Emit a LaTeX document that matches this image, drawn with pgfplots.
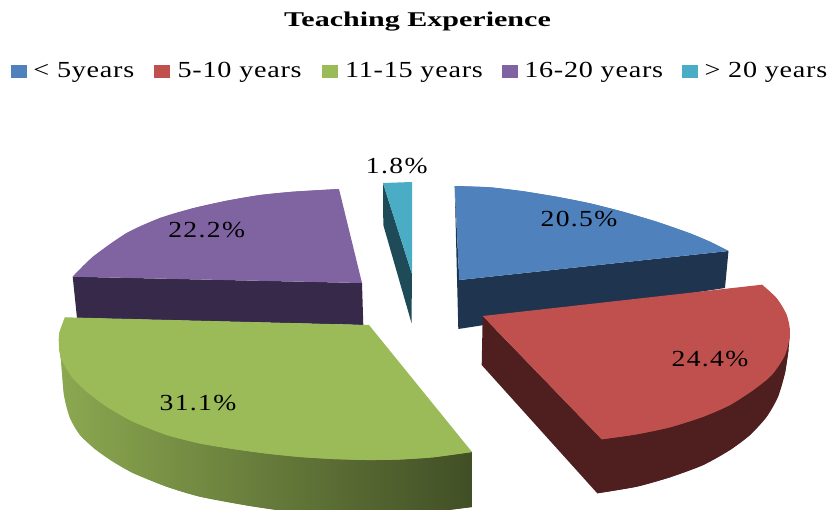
\documentclass[border=0pt]{standalone}
\usepackage{pgfplots}
\pgfplotsset{compat=1.18}
\usepackage{fontspec}
\setmainfont{Liberation Serif}
\newfontfamily\leg[FakeStretch=1.225,LetterSpace=3.2]{Liberation Serif}
\newfontfamily\lab[FakeStretch=1.2,LetterSpace=6]{Liberation Serif}
\definecolor{cb}{HTML}{4F81BD}\definecolor{cr}{HTML}{C0504D}\definecolor{cg}{HTML}{9BBB59}
\definecolor{cp}{HTML}{8064A2}\definecolor{cc}{HTML}{4BACC6}
\definecolor{db}{HTML}{1F344E}\definecolor{dr}{HTML}{4E1F1E}\definecolor{dp}{HTML}{36294A}\definecolor{dc}{HTML}{1E4B57}
\begin{document}
\begin{tikzpicture}
\useasboundingbox (0,0) rectangle (830bp,510bp);
\begin{axis}[
  at={(0,0)},anchor=south west,
  width=830bp,height=510bp,scale only axis,
  xmin=0,xmax=830,ymin=0,ymax=510,y dir=reverse,
  hide axis,clip=true,
  legend columns=5,
  legend style={draw=none,fill=none,at={(axis cs:11,71)},anchor=west,
    font=\fontsize{23bp}{25bp}\leg,inner sep=0pt,outer sep=0pt,
    nodes={inner sep=0pt,outer sep=0pt},
    /tikz/column 1/.style={column sep=7bp},
    /tikz/column 2/.style={column sep=20bp},
    /tikz/column 3/.style={column sep=8bp},
    /tikz/column 4/.style={column sep=20bp},
    /tikz/column 5/.style={column sep=8bp},
    /tikz/column 6/.style={column sep=19bp},
    /tikz/column 7/.style={column sep=7bp},
    /tikz/column 8/.style={column sep=19bp},
    /tikz/column 9/.style={column sep=7bp}},
  legend cell align=left,
  legend image code/.code={\fill[#1] (0bp,-6bp) rectangle (15bp,6bp);},
]
\addlegendimage{cb}\addlegendentry{< 5years}
\addlegendimage{cr}\addlegendentry{5-10 years}
\addlegendimage{cg}\addlegendentry{11-15 years}
\addlegendimage{cp}\addlegendentry{16-20 years}
\addlegendimage{cc}\addlegendentry{> 20 years}
% blue
\addplot[forget plot,fill=db,draw=none] coordinates {(454.7,186)(459.3,280)(728.5,251)(725,288)(458.3,329)};
\addplot[forget plot,fill=cb,draw=none] coordinates {(454.7,186)(490,187.3)(523,191.2)(556.7,196.7)(590,203.3)(623,211.7)(656.7,221.7)(690,233.3)(710,241.7)(728.5,251)(459.3,280)};
\addplot[forget plot,fill=cb,draw=none,smooth] coordinates {(454.7,186)(490,187.3)(523,191.2)(556.7,196.7)(590,203.3)(623,211.7)(656.7,221.7)(690,233.3)(710,241.7)(728.5,251)};
% purple
\addplot[forget plot,fill=dp,draw=none] coordinates {(72.7,276.7)(362,283)(363.3,325)(77,318)};
\addplot[forget plot,fill=cp,draw=none] coordinates {(339,189)(293,191.7)(260,195)(226.7,200.7)(193,208.2)(160,218)(126.7,233)(93,256.7)(72.7,276.7)(362,283)};
\addplot[forget plot,fill=cp,draw=none,smooth] coordinates {(339,189)(293,191.7)(260,195)(226.7,200.7)(193,208.2)(160,218)(126.7,233)(93,256.7)(72.7,276.7)};
% cyan
\addplot[forget plot,fill=dc,draw=none] coordinates {(383,183)(412,274)(411.5,323)(383.3,225)};
\addplot[forget plot,fill=cc,draw=none] coordinates {(383,183)(412,182)(412,274)};
% red
\addplot[forget plot,fill=dr,draw=none] coordinates {(482.7,316)(481.7,365)(597.3,493.3)(636.7,486.7)(670,477.3)(703.3,465)(730,450)(750,435)(766.7,416.7)(778,396.7)(785,373)(788.5,350)(790,333)(601.7,439)};
\addplot[forget plot,fill=dr,draw=none,smooth] coordinates {(788.5,350)(785,373)(778,396.7)(766.7,416.7)(750,435)(730,450)(703.3,465)(670,477.3)(636.7,486.7)(597.3,493.3)};
\addplot[forget plot,fill=cr,draw=none] coordinates {(482.7,316)(762,284.7)(776.7,298.3)(786.7,315)(790,333.3)(785,355)(771.7,375)(753.3,390)(730,405)(703.3,416.7)(670,427.3)(636.7,434.3)(601.7,439.3)};
\addplot[forget plot,fill=cr,draw=none,smooth] coordinates {(762,284.7)(776.7,298.3)(786.7,315)(790,333.3)(785,355)(771.7,375)(753.3,390)(730,405)(703.3,416.7)(670,427.3)(636.7,434.3)(601.7,439.3)};
% green
\addplot[forget plot,draw=none,left color=cg!90!black,right color=cg!42!black] coordinates {(59,346.7)(61,360)(64,395)(70,418)(80,435)(95,449)(112,461)(133,473)(166.7,486.7)(200,496.7)(250,506)(300,513)(350,516)(400,515)(440,511)(472,507)(472,452)};
\addplot[forget plot,draw=none,smooth,left color=cg!90!black,right color=cg!42!black] coordinates {(59,346.7)(61,360)(64,395)(70,418)(80,435)(95,449)(112,461)(133,473)(166.7,486.7)(200,496.7)(250,506)(300,513)(350,516)(400,515)(440,511)(472,507)};
\addplot[forget plot,fill=cg,draw=none] coordinates {(65,317.3)(369,325)(472,452)(433,457.3)(400,459.5)(367,460)(333,459)(300,457)(266,453.5)(233,449)(200,443.5)(166.7,435)(133,421.7)(106.7,406.7)(86.7,391.7)(71.7,376.7)(61.7,360)(59,346.7)(59.3,333)};
\addplot[forget plot,fill=cg,draw=none,smooth] coordinates {(65,317.3)(59.3,333)(59,346.7)(61.7,360)(71.7,376.7)(86.7,391.7)(106.7,406.7)(133,421.7)(166.7,435)(200,443.5)(233,449)(266,453.5)(300,457)(333,459)(367,460)(400,459.5)(433,457.3)(472,452)};
\node[font=\fontsize{23bp}{25bp}\lab] at (axis cs:579,219.5) {20.5\%};
\node[font=\fontsize{23bp}{25bp}\lab] at (axis cs:206.7,230) {22.2\%};
\node[font=\fontsize{23bp}{25bp}\lab] at (axis cs:396.7,165.7) {1.8\%};
\node[font=\fontsize{23bp}{25bp}\lab] at (axis cs:198,402.7) {31.1\%};
\node[font=\fontsize{23bp}{25bp}\lab] at (axis cs:710,359) {24.4\%};
\node[font=\fontsize{21bp}{23bp}\bfseries,xscale=1.43] at (axis cs:417.5,22) {Teaching Experience};
\end{axis}
\end{tikzpicture}
\end{document}
